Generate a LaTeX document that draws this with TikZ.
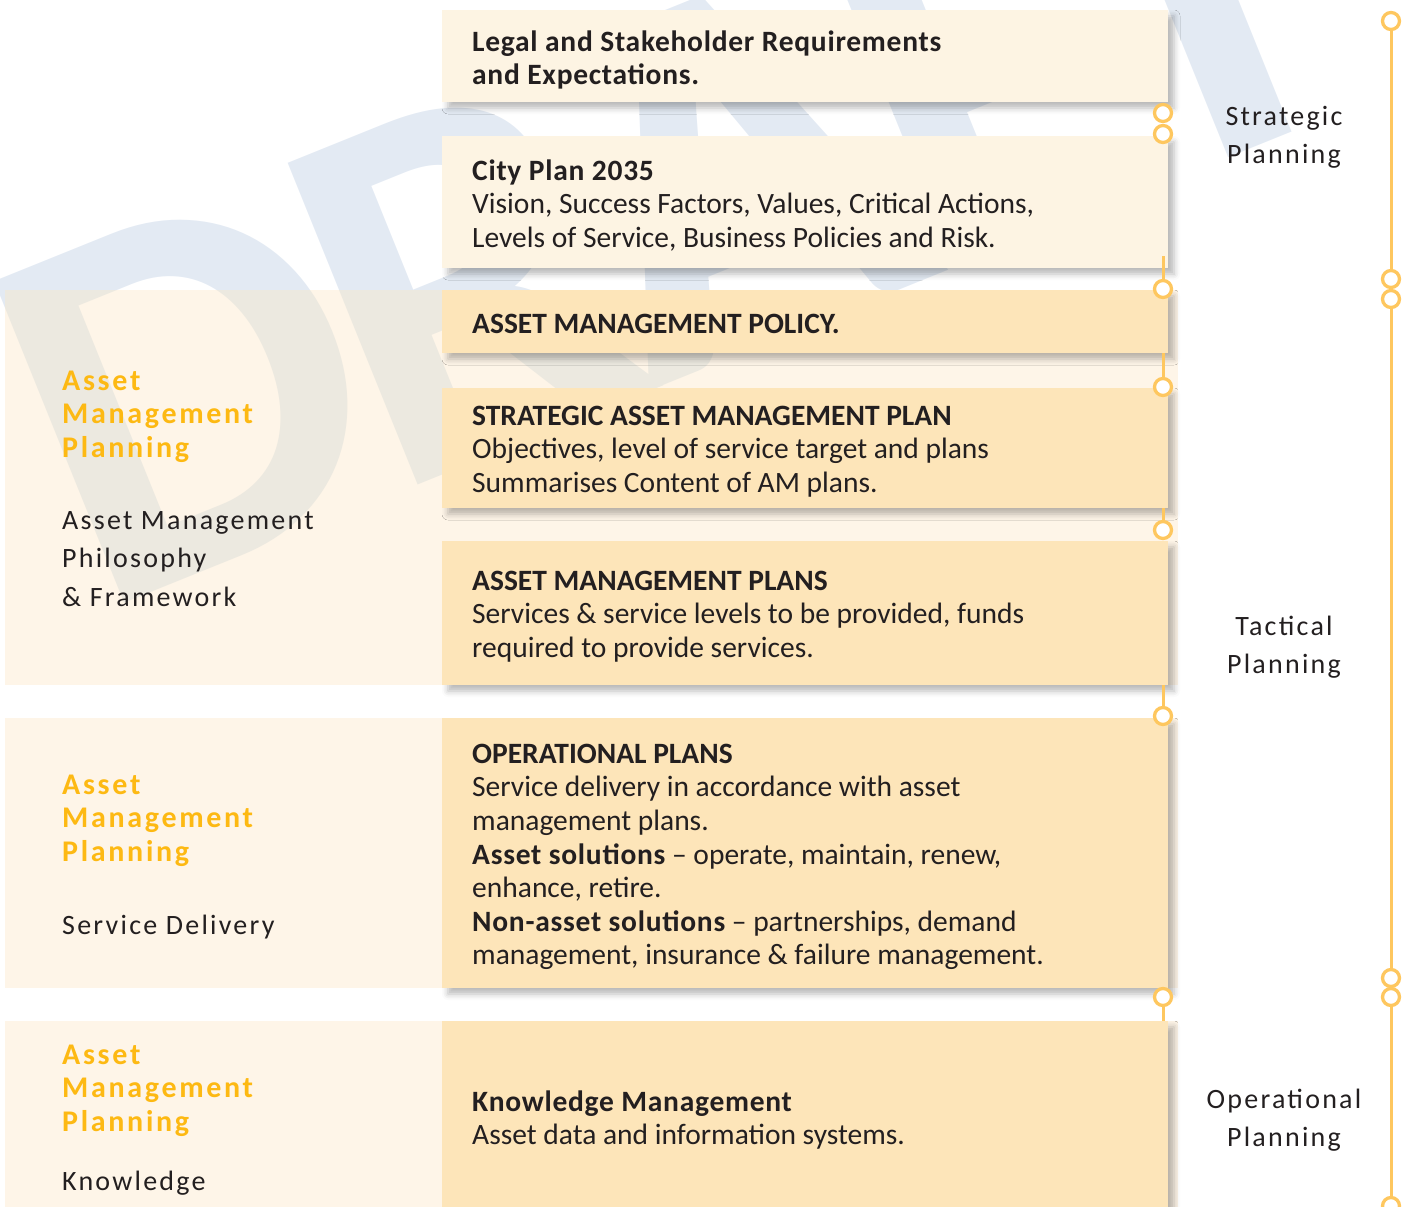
\documentclass[tikz,border=0pt]{standalone}
\usepackage{fontspec}
\setmainfont{Carlito}
\newfontfamily\spacedfont[LetterSpace=8]{Carlito}
\newfontfamily\orangefont[LetterSpace=9]{Carlito}
\newfontfamily\widebold[LetterSpace=2.5]{Carlito}
\newfontfamily\wmfont[LetterSpace=-4]{Carlito}
\usetikzlibrary{shadows.blur}
\definecolor{boxlight}{HTML}{FDF4E3}
\definecolor{boxdark}{HTML}{FDE5B9}
\definecolor{panelc}{HTML}{FEF5E8}
\definecolor{linec}{HTML}{FEC75F}
\definecolor{orangec}{HTML}{FDB913}
\definecolor{darktext}{HTML}{231F20}
\definecolor{wmblue}{HTML}{E3EAF3}
\definecolor{wmgrey}{HTML}{ECE9E0}
\newcommand\Bline[1]{\strut\textbf{#1}}
\newcommand\Wline[1]{\strut{\widebold\bfseries #1}}
\newcommand\Wb[1]{{\widebold\bfseries #1}}
\newcommand\Rline[1]{\strut #1}
\begin{document}
\begin{tikzpicture}[x=1pt,y=-1pt,
  boxstyle/.style={anchor=north west, inner sep=0pt, outer sep=0pt, minimum width=726pt,
    blur shadow={shadow xshift=6pt, shadow yshift=-6pt, shadow blur radius=6pt, shadow opacity=28}},
  lightbox/.style={boxstyle, fill=boxlight},
  darkbox/.style={boxstyle, fill=boxdark},
  panel/.style={anchor=north west, inner sep=0pt, outer sep=0pt, fill=panelc, minimum width=1173pt},
  txt/.style={anchor=north west, inner sep=0pt, align=left, text=darktext, font=\fontsize{29.5}{33.6}\selectfont},
  orangelbl/.style={anchor=north west, inner sep=0pt, align=left, text=orangec, font=\orangefont\bfseries\fontsize{30}{33.5}\selectfont},
  greylbl/.style={anchor=north west, inner sep=0pt, align=left, text=darktext, font=\spacedfont\fontsize{28}{38.5}\selectfont},
  rightlbl/.style={anchor=north, inner sep=0pt, align=center, text=darktext, font=\spacedfont\fontsize{28}{38}\selectfont},
  ring/.style={circle, draw=linec, line width=3.3pt, fill=white, minimum size=17pt, inner sep=0pt},
  tl/.style={draw=linec, line width=3pt},
  wmark/.style={rotate=22, anchor=base west, inner sep=0pt, font=\wmfont\fontsize{535}{535}\selectfont\bfseries}
]
\useasboundingbox (0,0) rectangle (1414,1207);

% watermark
\node[wmark, text=wmblue] (wm) at (96,615) {DRAFT};

% panels
\node[panel, minimum height=395pt] (pA) at (5,290) {};
\node[panel, minimum height=270pt] (pB) at (5,718) {};
\node[panel, minimum height=190pt] (pC) at (5,1021) {};

\begin{scope}
  \clip (pA.north west) rectangle (pA.south east)
        (pB.north west) rectangle (pB.south east)
        (pC.north west) rectangle (pC.south east);
  \node[wmark, text=wmgrey] (wm2) at (96,615) {DRAFT};
\end{scope}

% boxes
\node[lightbox, minimum height=92pt] (b1) at (442,10) {};
\node[lightbox, minimum height=132pt] (b2) at (442,136) {};
\node[darkbox, minimum height=63pt] (b3) at (442,290) {};
\node[darkbox, minimum height=120pt] (b4) at (442,388) {};
\node[darkbox, minimum height=144pt] (b5) at (442,541) {};
\node[darkbox, minimum height=270pt] (b6) at (442,718) {};
\node[darkbox, minimum height=200pt] (b7) at (442,1021) {};

% box connectors
\node[ring] (r12a) at (1163,113) {};
\node[ring] (r12b) at (1163,134) {};
\node[ring] (r23) at (1163,289) {};
\node[ring] (r34) at (1163,387) {};
\node[ring] (r45) at (1163,530) {};
\node[ring] (r56) at (1163,716) {};
\node[ring] (r67) at (1163,997) {};
\draw[tl] (r23.north) -- ++(0,-23);
\draw[tl] (r34.north) -- (r34.north |- b3.south);
\draw[tl] (r45.north) -- (r45.north |- b4.south);
\draw[tl] (r56.north) -- (r56.north |- b5.south);
\draw[tl] (r67.south) -- (r67.south |- b7.north);

% right timeline
\node[ring] (tr1) at (1391,21) {};
\node[ring] (tr2) at (1391,279) {};
\node[ring] (tr3) at (1391,299) {};
\node[ring] (tr4) at (1391,978) {};
\node[ring] (tr5) at (1391,997) {};
\node[ring] (tr6) at (1391,1206) {};
\draw[tl] (tr1) -- (tr2);
\draw[tl] (tr3) -- (tr4);
\draw[tl] (tr5) -- (tr6);

% box texts
\node[txt] (t1) at (472,27.5) {\Wline{Legal and Stakeholder Requirements}\\\Wline{and Expectations.}};
\node[txt] (t2) at (472,156.5) {\Wline{City Plan 2035}\\\Rline{Vision, Success Factors, Values, Critical Actions,}\\\Rline{Levels of Service, Business Policies and Risk.}};
\node[txt] (t3) at (472,309.5) {\Bline{ASSET MANAGEMENT POLICY.}};
\node[txt] (t4) at (472,401.5) {\Bline{STRATEGIC ASSET MANAGEMENT PLAN}\\\Rline{Objectives, level of service target and plans}\\\Rline{Summarises Content of AM plans.}};
\node[txt] (t5) at (472,566.5) {\Bline{ASSET MANAGEMENT PLANS}\\\Rline{Services \& service levels to be provided, funds}\\\Rline{required to provide services.}};
\node[txt] (t6) at (472,739.5) {\Bline{OPERATIONAL PLANS}\\\Rline{Service delivery in accordance with asset}\\\Rline{management plans.}\\\Rline{\Wb{Asset solutions} – operate, maintain, renew,}\\\Rline{enhance, retire.}\\\Rline{\Wb{Non-asset solutions} – partnerships, demand}\\\Rline{management, insurance \& failure management.}};
\node[txt] (t7) at (472,1087.5) {\Wline{Knowledge Management}\\\Rline{Asset data and information systems.}};

% left labels
\node[orangelbl] (la1) at (62,366.5) {\strut Asset\\\strut Management\\\strut Planning};
\node[greylbl] (la2) at (62,502) {\strut Asset Management\\\strut Philosophy\\\strut \& Framework};
\node[orangelbl] (lb1) at (62,770.5) {\strut Asset\\\strut Management\\\strut Planning};
\node[greylbl] (lb2) at (62,907) {\strut Service Delivery};
\node[orangelbl] (lc1) at (62,1040.5) {\strut Asset\\\strut Management\\\strut Planning};
\node[greylbl] (lc2) at (62,1163) {\strut Knowledge};

% right labels
\node[rightlbl] (s1) at (1284,98.4) {\strut Strategic\\\strut Planning};
\node[rightlbl] (s2) at (1284,608.4) {\strut Tactical\\\strut Planning};
\node[rightlbl] (s3) at (1284,1081.4) {\strut Operational\\\strut Planning};
\end{tikzpicture}
\end{document}
